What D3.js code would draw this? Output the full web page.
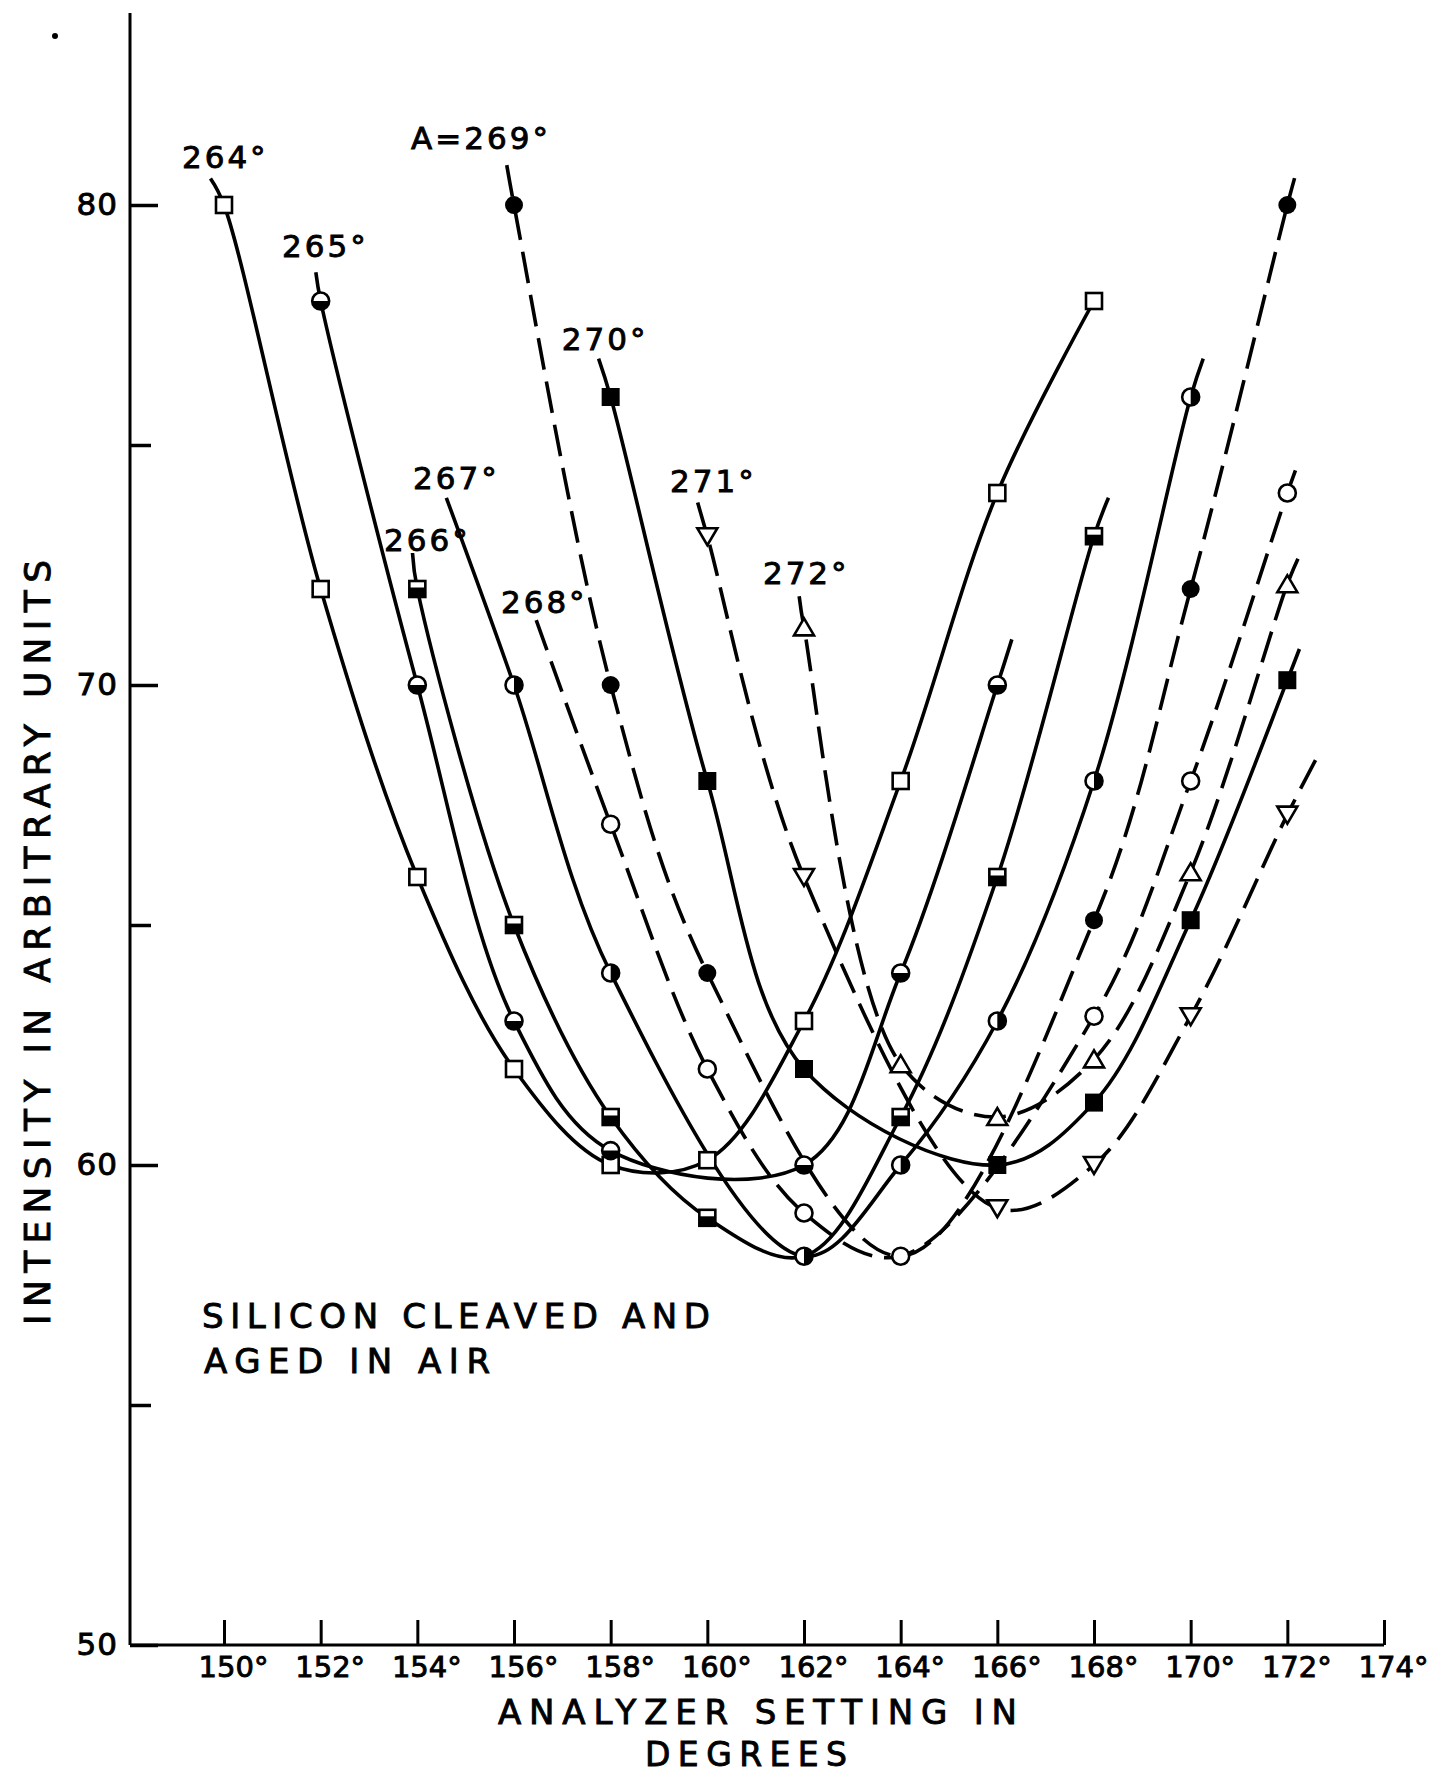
<!DOCTYPE html>
<html><head><meta charset="utf-8">
<script src="https://cdn.jsdelivr.net/npm/d3@7"></script>
<style>
html,body{margin:0;padding:0;background:#fff;}
svg{display:block;}
text{font-family:"DejaVu Sans",sans-serif;fill:#000;stroke:#000;stroke-width:0.9px;}
</style></head><body>
<svg id="chart" width="1436" height="1776"></svg>
<script>
// ---------- data ----------
const xTickValues = [150,152,154,156,158,160,162,164,166,168,170,172,174];
const yMajorTicks = [50,60,70,80];
const yMinorTicks = [55,65,75];

const seriesNames = ["264°","265°","266°","267°","268°","269°","270°","271°","272°"];
const seriesLabels = ["264°","265°","266°","267°","268°","A=269°","270°","271°","272°"];
const seriesSymbols = ["sqOpen","circHalfBottom","sqHalfBottom","circHalfRight","circOpen","circFilled","sqFilled","triDown","triUp"];
const seriesDashed = [false,false,false,false,true,true,false,true,true];

const x264 = [150,152,154,156,158,160,162,164,166,168];
const y264 = [80,72,66,62,60,60.1,63,68,74,78];
const x265 = [152,154,156,158,162,164,166];
const y265 = [78,70,63,60.3,60,64,70];
const x266 = [154,156,158,160,162,164,166,168];
const y266 = [72,65,61,58.9,58.1,61,66,73.1];
const x267 = [156,158,162,164,166,168,170];
const y267 = [70,64,58.1,60,63,68,76];
const x268 = [158,160,162,164,168,170,172];
const y268 = [67.1,62,59,58.1,63.1,68,74];
const x269 = [156,158,160,164,168,170,172];
const y269 = [80,70,64,58.1,65.1,72,80];
const x270 = [158,160,162,166,168,170,172];
const y270 = [76,68,62,60,61.3,65.1,70.1];
const x271 = [160,162,166,168,170,172];
const y271 = [73.1,66,59.1,60,63.1,67.3];
const x272 = [162,164,166,168,170,172];
const y272 = [71.2,62.1,61,62.2,66.1,72.1];

// where each drawn curve starts / ends beyond its first / last point (data units)
const curveStart = [[149.72,80.55],[151.9,78.6],[153.9,72.75],[154.6,73.9],[156.46,71.35],[155.85,80.83],[157.75,76.8],[159.8,73.8],[161.9,71.85]];
const curveEnd   = [null,[166.3,70.95],[168.3,73.9],[170.26,76.8],[172.2,74.56],[172.15,80.56],[172.25,70.75],[172.67,68.6],[172.22,72.63]];
// points whose symbol is covered by another series' symbol at the same spot
const coveredPoints = [[],[],[162],[],[],[164],[],[],[]];
// label anchors (data units, left/baseline)
const labelAnchor = [[149.13,80.77],[151.2,78.92],[153.31,72.79],[153.91,74.08],[155.73,71.5],[153.87,81.17],[156.99,76.98],[159.23,74.02],[161.15,72.1]];

const xs = [x264,x265,x266,x267,x268,x269,x270,x271,x272];
const ys = [y264,y265,y266,y267,y268,y269,y270,y271,y272];

// ---------- drawing ----------
const svg = d3.select("#chart");
const x = d3.scaleLinear().domain([150,174]).range([224,1384]);
const y = d3.scaleLinear().domain([50,80]).range([1645,205]);
const axisX0 = 130;

// stray dot of the scan
svg.append("circle").attr("cx",55).attr("cy",36).attr("r",3).attr("fill","#000");

// axes lines
svg.append("line").attr("x1",axisX0).attr("x2",axisX0).attr("y1",y(84)).attr("y2",y(50))
  .attr("stroke","#000").attr("stroke-width",3);
svg.append("line").attr("x1",axisX0).attr("x2",x(174)).attr("y1",y(50)).attr("y2",y(50))
  .attr("stroke","#000").attr("stroke-width",3);

// x ticks
const gx = svg.append("g").attr("transform",`translate(0,${y(50)})`)
  .call(d3.axisBottom(x).tickValues(xTickValues).tickSize(-25).tickSizeOuter(0).tickPadding(11)
        .tickFormat(d=>d+"°"));
gx.select(".domain").remove();
gx.selectAll(".tick line").attr("stroke","#000").attr("stroke-width",3);
gx.selectAll(".tick text").attr("font-size",29).attr("font-family","DejaVu Sans").attr("dx",9).attr("fill","#000");

// y ticks
const gyM = svg.append("g").attr("transform",`translate(${axisX0},0)`)
  .call(d3.axisLeft(y).tickValues(yMajorTicks).tickSize(-28).tickSizeOuter(0).tickPadding(12));
gyM.select(".domain").remove();
gyM.selectAll(".tick line").attr("stroke","#000").attr("stroke-width",3.5);
gyM.selectAll(".tick text").attr("font-size",31).attr("font-family","DejaVu Sans").attr("fill","#000").attr("letter-spacing","1px");
const gym = svg.append("g").attr("transform",`translate(${axisX0},0)`)
  .call(d3.axisLeft(y).tickValues(yMinorTicks).tickSize(-21).tickSizeOuter(0).tickFormat(""));
gym.select(".domain").remove();
gym.selectAll(".tick line").attr("stroke","#000").attr("stroke-width",3.5);

// curves
const line = d3.line().x(d=>x(d[0])).y(d=>y(d[1])).curve(d3.curveCatmullRom.alpha(0.5));
const gCurves = svg.append("g");
seriesNames.forEach((name,i)=>{
  const pts = xs[i].map((v,j)=>[v,ys[i][j]]);
  const path = [];
  if (curveStart[i]) path.push(curveStart[i]);
  path.push(...pts);
  if (curveEnd[i]) path.push(curveEnd[i]);
  gCurves.append("path").attr("d",line(path)).attr("fill","none")
    .attr("stroke","#000").attr("stroke-width",3.6)
    .attr("stroke-dasharray",seriesDashed[i]?"32,12":null);
});

// symbols
function drawSymbol(g,type,cx,cy){
  const s = g.append("g").attr("transform",`translate(${cx},${cy})`);
  const r = 8.5;
  switch(type){
    case "sqOpen":
      s.append("rect").attr("x",-8).attr("y",-8).attr("width",16).attr("height",16)
        .attr("fill","#fff").attr("stroke","#000").attr("stroke-width",2.6); break;
    case "sqFilled":
      s.append("rect").attr("x",-9).attr("y",-9).attr("width",18).attr("height",18).attr("fill","#000"); break;
    case "sqHalfBottom":
      s.append("rect").attr("x",-8).attr("y",-8).attr("width",16).attr("height",16)
        .attr("fill","#fff").attr("stroke","#000").attr("stroke-width",2.6);
      s.append("rect").attr("x",-8).attr("y",-1.5).attr("width",16).attr("height",9.5).attr("fill","#000"); break;
    case "circOpen":
      s.append("circle").attr("r",r).attr("fill","#fff").attr("stroke","#000").attr("stroke-width",2.6); break;
    case "circFilled":
      s.append("circle").attr("r",r+0.5).attr("fill","#000"); break;
    case "circHalfBottom":
      s.append("circle").attr("r",r).attr("fill","#fff").attr("stroke","#000").attr("stroke-width",2.6);
      s.append("path").attr("d",`M${-r},0A${r},${r} 0 0 0 ${r},0Z`).attr("fill","#000"); break;
    case "circHalfRight":
      s.append("circle").attr("r",r).attr("fill","#fff").attr("stroke","#000").attr("stroke-width",2.6);
      s.append("path").attr("d",`M0,${-r}A${r},${r} 0 0 1 0,${r}Z`).attr("fill","#000"); break;
    case "triDown":
      s.append("path").attr("d","M-10,-8L10,-8L0,9Z").attr("fill","#fff").attr("stroke","#000").attr("stroke-width",2.6).attr("stroke-linejoin","miter"); break;
    case "triUp":
      s.append("path").attr("d","M-10,8L10,8L0,-9Z").attr("fill","#fff").attr("stroke","#000").attr("stroke-width",2.6).attr("stroke-linejoin","miter"); break;
  }
}
const gSym = svg.append("g");
// draw order so that coincident symbols look like the reference
const order = [0,1,2,3,5,4,6,7,8];
order.forEach(i=>{
  xs[i].forEach((v,j)=>{
    if (coveredPoints[i].includes(v)) return;
    drawSymbol(gSym,seriesSymbols[i],x(v),y(ys[i][j]));
  });
});

// series labels
seriesLabels.forEach((t,i)=>{
  svg.append("text").attr("x",x(labelAnchor[i][0])).attr("y",y(labelAnchor[i][1]))
    .attr("font-size",31).attr("letter-spacing","3px").text(t);
});

// annotation
svg.append("text").attr("x",202).attr("y",1328).attr("font-size",34)
  .attr("textLength",508).attr("lengthAdjust","spacing").text("SILICON CLEAVED AND");
svg.append("text").attr("x",204).attr("y",1373).attr("font-size",34)
  .attr("textLength",286).attr("lengthAdjust","spacing").text("AGED IN AIR");

// axis titles
svg.append("text").attr("x",498).attr("y",1724).attr("font-size",34)
  .attr("textLength",519).attr("lengthAdjust","spacing").text("ANALYZER SETTING IN");
svg.append("text").attr("x",645).attr("y",1766).attr("font-size",33)
  .attr("textLength",202).attr("lengthAdjust","spacing").text("DEGREES");
svg.append("text").attr("transform","translate(50,1325) rotate(-90)").attr("font-size",36)
  .attr("textLength",765).attr("lengthAdjust","spacing").text("INTENSITY IN ARBITRARY UNITS");
</script>
</body></html>
